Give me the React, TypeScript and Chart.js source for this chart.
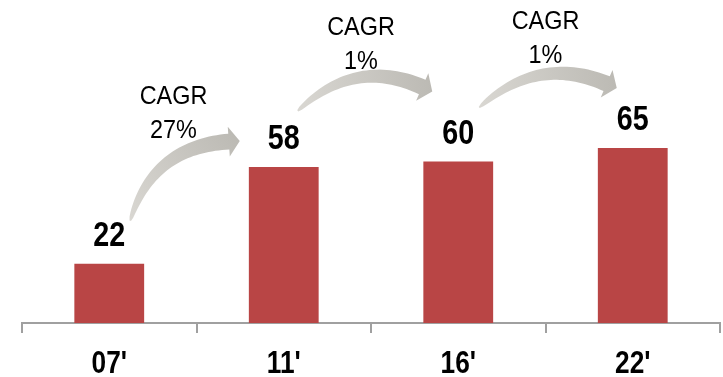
import { useEffect, useRef } from 'react';
import { Chart, registerables } from 'chart.js';

Chart.register(...registerables);

// Data
const CATEGORIES = ["07'", "11'", "16'", "22'"];
const VALUES = [22, 58, 60, 65];
const CAGR_TITLE = 'CAGR';
const CAGR_RATES = ['27%', '1%', '1%'];

const FONT = '"Liberation Sans", Arial, sans-serif';
const BAR_COLOR = '#B94545';
const AXIS_COLOR = '#a0a0a0';

// Placement of each growth arrow, in pixels relative to the bars it joins.
// start: offset from the left bar's top centre; tip: offset from the right bar's top centre;
// ctrl: bezier control offset from the start; text: offset of the rate's baseline.
const ARROW_LAYOUT = [
  { start: [21, -43], tip: [-44, -26], ctrl: [22, -74], textX: -23, textY: -29 },
  { start: [14, -56], tip: [-26, -70], ctrl: [57, -54], textX: -10, textY: -93 },
  { start: [21, -54], tip: [-16, -60], ctrl: [59, -53], textX: 0, textY: -85 },
];

// Draw text horizontally condensed (narrow face look)
function condensedText(
  ctx: CanvasRenderingContext2D,
  text: string,
  x: number,
  y: number,
  font: string,
  sx: number,
) {
  ctx.save();
  ctx.translate(x, y);
  ctx.scale(sx, 1);
  ctx.font = font;
  ctx.textAlign = 'center';
  ctx.textBaseline = 'alphabetic';
  ctx.fillStyle = '#000';
  ctx.fillText(text, 0, 0);
  ctx.restore();
}

function drawArrow(
  ctx: CanvasRenderingContext2D,
  p0: [number, number],
  c: [number, number],
  tip: [number, number],
) {
  const headLen = 11;
  const headHalf = 15;
  const startW = 1.5;
  const endW = 16;
  let tx = tip[0] - c[0];
  let ty = tip[1] - c[1];
  const tl = Math.hypot(tx, ty);
  tx /= tl;
  ty /= tl;
  const p2: [number, number] = [tip[0] - tx * headLen, tip[1] - ty * headLen];

  const left: [number, number][] = [];
  const right: [number, number][] = [];
  const N = 40;
  for (let i = 0; i <= N; i++) {
    const t = i / N;
    const mt = 1 - t;
    const x = mt * mt * p0[0] + 2 * mt * t * c[0] + t * t * p2[0];
    const y = mt * mt * p0[1] + 2 * mt * t * c[1] + t * t * p2[1];
    let dx = 2 * mt * (c[0] - p0[0]) + 2 * t * (p2[0] - c[0]);
    let dy = 2 * mt * (c[1] - p0[1]) + 2 * t * (p2[1] - c[1]);
    const dl = Math.hypot(dx, dy) || 1;
    dx /= dl;
    dy /= dl;
    const w = (startW + (endW - startW) * Math.pow(t, 0.5)) / 2;
    left.push([x - dy * w, y + dx * w]);
    right.push([x + dy * w, y - dx * w]);
  }

  const grad = ctx.createLinearGradient(p0[0], p0[1], tip[0], tip[1]);
  grad.addColorStop(0, '#d9d7d2');
  grad.addColorStop(1, '#bcbab4');
  ctx.fillStyle = grad;

  ctx.beginPath();
  ctx.moveTo(left[0][0], left[0][1]);
  for (const p of left) ctx.lineTo(p[0], p[1]);
  // arrow head
  ctx.lineTo(p2[0] - ty * headHalf, p2[1] + tx * headHalf);
  ctx.lineTo(tip[0], tip[1]);
  ctx.lineTo(p2[0] + ty * headHalf, p2[1] - tx * headHalf);
  for (let i = right.length - 1; i >= 0; i--) ctx.lineTo(right[i][0], right[i][1]);
  ctx.closePath();
  ctx.fill();
}

const annotationPlugin = {
  id: 'barAnnotations',
  afterDatasetsDraw(chart: any) {
    const ctx: CanvasRenderingContext2D = chart.ctx;
    const bars = chart.getDatasetMeta(0).data;
    const xScale = chart.scales.x;
    const bottom = chart.chartArea.bottom;
    ctx.save();

    // category labels under the axis
    CATEGORIES.forEach((label, i) => {
      condensedText(ctx, label, xScale.getPixelForValue(i), bottom + 50, `bold 32px ${FONT}`, 0.82);
    });

    // value labels above bars
    bars.forEach((bar: any, i: number) => {
      condensedText(ctx, String(VALUES[i]), bar.x, bar.y - 18, `bold 35px ${FONT}`, 0.82);
    });

    // growth arrows with CAGR captions
    CAGR_RATES.forEach((rate, i) => {
      const a = bars[i];
      const b = bars[i + 1];
      const L = ARROW_LAYOUT[i];
      const p0: [number, number] = [a.x + L.start[0], a.y + L.start[1]];
      const c: [number, number] = [p0[0] + L.ctrl[0], p0[1] + L.ctrl[1]];
      const tip: [number, number] = [b.x + L.tip[0], b.y + L.tip[1]];
      drawArrow(ctx, p0, c, tip);

      const tx = (a.x + b.x) / 2 + L.textX;
      const ty = b.y + L.textY;
      condensedText(ctx, rate, tx, ty, `26px ${FONT}`, 0.9);
      condensedText(ctx, CAGR_TITLE, tx, ty - 34, `26px ${FONT}`, 0.9);
    });

    ctx.restore();
  },
};

export default function App() {
  const ref = useRef<HTMLCanvasElement>(null);

  useEffect(() => {
    const chart = new Chart(ref.current!, {
      type: 'bar',
      data: {
        labels: CATEGORIES,
        datasets: [
          {
            data: VALUES,
            backgroundColor: BAR_COLOR,
            categoryPercentage: 1,
            barPercentage: 0.4,
          },
        ],
      },
      options: {
        animation: false,
        responsive: true,
        maintainAspectRatio: false,
        layout: { padding: { left: 22, right: 3, top: 0, bottom: 44 } },
        plugins: {
          legend: { display: false },
          tooltip: { enabled: false },
        },
        scales: {
          x: {
            grid: {
              offset: true,
              drawOnChartArea: false,
              drawTicks: true,
              tickLength: 10,
              color: AXIS_COLOR,
              lineWidth: 2,
            },
            border: { display: true, color: AXIS_COLOR, width: 2 },
            ticks: { display: false },
          },
          y: { display: false, min: 0, max: 120 },
        },
      },
      plugins: [annotationPlugin],
    });
    return () => chart.destroy();
  }, []);

  return (
    <div style={{ position: 'fixed', left: 0, top: 0, width: 723, height: 377 }}>
      <canvas ref={ref} />
    </div>
  );
}
